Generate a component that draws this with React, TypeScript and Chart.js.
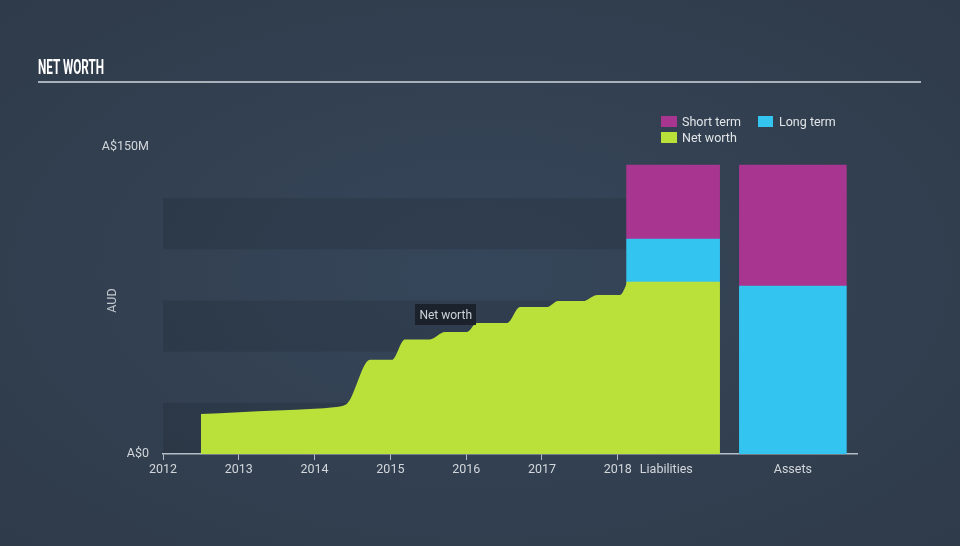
import React, { useEffect, useRef } from 'react';
import { Chart, registerables } from 'chart.js';

Chart.register(...registerables);

// ---- data ----
const netWorthYears = [2012.5, 2013.0, 2013.5, 2014.0, 2014.25, 2014.42, 2014.73, 2015.02, 2015.19, 2015.52, 2015.72, 2016.01, 2016.14, 2016.54, 2016.71, 2017.07, 2017.21, 2017.54, 2017.73, 2018.03, 2018.13];
const netWorthValues = [19.5, 20.4, 21.2, 22.1, 22.9, 24.3, 46.0, 46.0, 56.0, 56.0, 59.6, 59.6, 64.0, 64.0, 71.8, 71.8, 74.7, 74.7, 77.7, 77.7, 84.0];

const barCategories = ['Liabilities', 'Assets'];
const barPositions = [2018.73, 2020.31];
const barNetWorth = [84.0, 0];
const barLongTerm = [21.0, 82.1];
const barShortTerm = [36.2, 59.1];

const xTickValues = [2012, 2013, 2014, 2015, 2016, 2017, 2018, 2018.64, 2020.31];
const xTickLabels = ['2012', '2013', '2014', '2015', '2016', '2017', '2018', 'Liabilities', 'Assets'];
const yTickValues = [0, 150];
const yTickLabels = ['A$0', 'A$150M'];
const bandRanges = [[0, 25], [50, 75], [100, 125]];
const annotation = { text: 'Net worth', x: 2015.73, y: 68 };

// ---- styles ----
const GREEN = '#bae03a';
const MAGENTA = '#a8358f';
const CYAN = '#33c4ef';
const TEXT = '#d3d7dc';
const AXIS = '#b6bdc6';
const barWidths = [93, 107];

export default function App() {
  const canvasRef = useRef<HTMLCanvasElement | null>(null);

  useEffect(() => {
    const canvas = canvasRef.current;
    if (!canvas) return;

    const bandsPlugin = {
      id: 'bands',
      beforeDraw(chart: any) {
        const { ctx, chartArea, scales } = chart;
        const x = scales.x;
        const y = scales.y;
        const right = x.getPixelForValue(barPositions[0]) - barWidths[0] / 2;
        ctx.save();
        ctx.fillStyle = 'rgba(0,0,0,0.1)';
        for (const [a, b] of bandRanges) {
          const top = y.getPixelForValue(b);
          const bottom = y.getPixelForValue(a);
          ctx.fillRect(chartArea.left, top, right - chartArea.left, bottom - top);
        }
        ctx.restore();
      },
    };

    const annotationPlugin = {
      id: 'nwLabel',
      afterDatasetsDraw(chart: any) {
        const { ctx, scales } = chart;
        const cx = scales.x.getPixelForValue(annotation.x);
        const cy = scales.y.getPixelForValue(annotation.y);
        ctx.save();
        ctx.font = '12px Roboto';
        const w = ctx.measureText(annotation.text).width + 8;
        const h = 21;
        ctx.fillStyle = '#1b222b';
        ctx.fillRect(Math.round(cx - w / 2), Math.round(cy - h / 2), Math.round(w), h);
        ctx.fillStyle = '#cfd3d8';
        ctx.textAlign = 'center';
        ctx.textBaseline = 'middle';
        ctx.fillText(annotation.text, cx, cy + 1);
        ctx.restore();
      },
    };

    const barDs = (label: string, idx: number, from: number, to: number, color: string) => ({
      type: 'bar' as const,
      label,
      data: [{ x: barPositions[idx], y: [from, to] }],
      backgroundColor: color,
      borderWidth: 0,
      grouped: false,
      barThickness: barWidths[idx],
      order: 2,
    });

    const chart = new Chart(canvas, {
      type: 'bar',
      data: {
        datasets: [
          {
            type: 'line',
            label: 'Net worth',
            data: netWorthYears.map((x, i) => ({ x, y: netWorthValues[i] })),
            fill: 'origin',
            backgroundColor: GREEN,
            borderColor: GREEN,
            borderWidth: 0,
            pointRadius: 0,
            cubicInterpolationMode: 'monotone',
            order: 1,
          } as any,
          barDs(barCategories[0] + ' net worth', 0, 0, barNetWorth[0], GREEN),
          barDs(barCategories[0] + ' long term', 0, barNetWorth[0], barNetWorth[0] + barLongTerm[0], CYAN),
          barDs(barCategories[0] + ' short term', 0, barNetWorth[0] + barLongTerm[0], barNetWorth[0] + barLongTerm[0] + barShortTerm[0], MAGENTA),
          barDs(barCategories[1] + ' long term', 1, 0, barLongTerm[1], CYAN),
          barDs(barCategories[1] + ' short term', 1, barLongTerm[1], barLongTerm[1] + barShortTerm[1], MAGENTA),
        ] as any,
      },
      options: {
        responsive: false,
        animation: false,
        layout: { padding: { left: 90, top: 147, right: 103, bottom: 62 } },
        plugins: {
          legend: { display: false },
          tooltip: { enabled: false },
        },
        scales: {
          x: {
            type: 'linear',
            offset: false,
            min: 2012,
            max: 2021.156,
            afterBuildTicks: (scale: any) => {
              scale.ticks = xTickValues.map((value) => ({ value }));
            },
            afterFit: (scale: any) => {
              scale.height = 30;
            },
            ticks: {
              autoSkip: false,
              maxRotation: 0,
              padding: 2,
              color: TEXT,
              font: { family: 'Roboto', size: 12.5 },
              callback: (_v: any, index: number) => xTickLabels[index],
            },
            grid: {
              display: true,
              offset: false,
              drawOnChartArea: false,
              drawTicks: true,
              tickLength: 6,
              color: (ctx: any) => (ctx.index < 7 ? AXIS : 'rgba(0,0,0,0)'),
              tickColor: (ctx: any) => (ctx.index < 7 ? AXIS : 'rgba(0,0,0,0)'),
            },
            border: { display: true, color: AXIS, width: 1.5 },
          },
          y: {
            type: 'linear',
            min: 0,
            max: 150,
            afterBuildTicks: (scale: any) => {
              scale.ticks = yTickValues.map((value) => ({ value }));
            },
            afterFit: (scale: any) => {
              scale.width = 73;
            },
            ticks: {
              padding: 14,
              color: TEXT,
              font: { family: 'Roboto', size: 12.5 },
              callback: (_v: any, index: number) => yTickLabels[index],
            },
            grid: { display: false, drawTicks: false },
            border: { display: false },
            title: {
              display: true,
              text: 'AUD',
              color: '#c3c8ce',
              font: { family: 'Roboto', size: 12.5 },
              padding: { top: 15, bottom: 0 },
            },
          },
        },
      } as any,
      plugins: [bandsPlugin, annotationPlugin],
    });

    return () => chart.destroy();
  }, []);

  const legendText: React.CSSProperties = {
    position: 'absolute',
    fontFamily: 'Roboto, sans-serif',
    fontSize: 12.5,
    lineHeight: '11px',
    color: '#e2e5e8',
    whiteSpace: 'nowrap',
  };
  const sq = (left: number, top: number, w: number, color: string): React.CSSProperties => ({
    position: 'absolute',
    left,
    top,
    width: w,
    height: 11,
    background: color,
  });

  return (
    <div
      style={{
        position: 'fixed',
        left: 0,
        top: 0,
        width: 960,
        height: 546,
        overflow: 'hidden',
        background: 'radial-gradient(ellipse 75% 75% at 50% 50%, #36465a 0%, #2e3a48 100%)',
      }}
    >
      <div
        style={{
          position: 'absolute',
          left: 38,
          top: 56.5,
          fontFamily: 'Roboto, sans-serif',
          fontWeight: 700,
          fontSize: 21,
          lineHeight: '21px',
          color: '#ffffff',
          transform: 'scaleX(0.56)',
          transformOrigin: 'left top',
          whiteSpace: 'nowrap',
        }}
      >
        NET WORTH
      </div>
      <div style={{ position: 'absolute', left: 38, top: 81, width: 883, height: 1.5, background: '#a9b0b9' }} />

      <div style={sq(661, 116, 16, MAGENTA)} />
      <div style={{ ...legendText, left: 682, top: 116 }}>Short term</div>
      <div style={sq(758, 116, 15, CYAN)} />
      <div style={{ ...legendText, left: 779, top: 116 }}>Long term</div>
      <div style={sq(661, 132, 16, GREEN)} />
      <div style={{ ...legendText, left: 682, top: 132 }}>Net worth</div>

      <canvas ref={canvasRef} width={960} height={546} style={{ position: 'absolute', left: 0, top: 0 }} />
    </div>
  );
}
